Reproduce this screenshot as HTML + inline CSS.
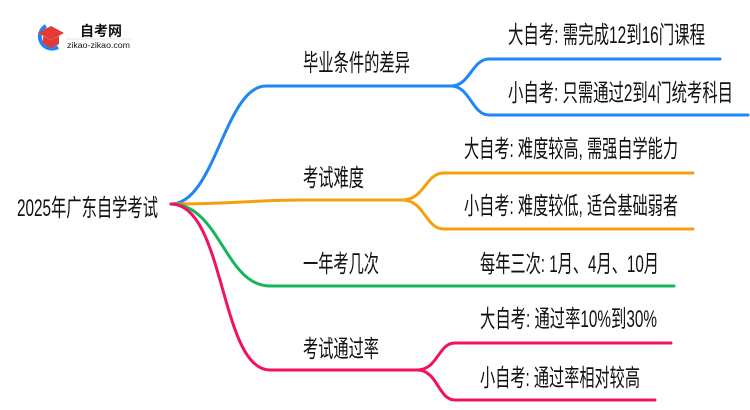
<!DOCTYPE html>
<html><head><meta charset="utf-8"><style>
html,body{margin:0;padding:0;background:#fff;width:750px;height:410px;overflow:hidden}
text{font-family:"Liberation Sans","Noto Sans CJK SC",sans-serif;fill:#111}
</style></head><body>
<svg width="750" height="410" viewBox="0 0 750 410" xmlns="http://www.w3.org/2000/svg">
<g fill="none" stroke-width="3" stroke-linecap="round">
<path d="M171,204 C215,204 225,86 266,86 L451,86" stroke="#1e86f5"/>
<path d="M451,86 C470,86 472,59 489,59 L720,59" stroke="#1e86f5"/>
<path d="M451,86 C470,86 472,115 489,115 L748,115" stroke="#1e86f5"/>
<path d="M171,204 C230,204 260,200 300,200 L402,200" stroke="#f4a10c"/>
<path d="M402,200 C425,200 425,173 444,173 L693,173" stroke="#f4a10c"/>
<path d="M402,200 C425,200 425,229 444,229 L693,229" stroke="#f4a10c"/>
<path d="M171,204 C220,204 225,286 270,286 L674,286" stroke="#17b65a"/>
<path d="M171,204 C225,204 220,370 270,370 L417,370" stroke="#f2125f"/>
<path d="M417,370 C438,370 438,343 455,343 L671,343" stroke="#f2125f"/>
<path d="M417,370 C438,370 438,400 455,400 L655,400" stroke="#f2125f"/>
</g>
<!-- logo -->
<path d="M46,26 A12,12 0 1 0 58,47" fill="none" stroke="#1e86f5" stroke-width="4"/>
<polygon points="38,33 51,26 64,33 51,40" fill="#e53935"/>
<path d="M43,36 L43,44 L51,48 L59,44 L59,36 L51,40 Z" fill="#e53935"/>
<text x="80" y="36" font-size="14" font-weight="bold" fill="#222">自考网</text>
<line x1="66" y1="39" x2="131" y2="39" stroke="#ccc" stroke-width="0.6"/>
<text x="67" y="48" font-size="8" fill="#444" textLength="63" lengthAdjust="spacingAndGlyphs">zikao-zikao.com</text>

<g font-size="24">
<text x="17" y="216" textLength="141" lengthAdjust="spacingAndGlyphs">2025年广东自学考试</text>
<text x="303" y="71" textLength="107" lengthAdjust="spacingAndGlyphs">毕业条件的差异</text>
<text x="303" y="186" textLength="61" lengthAdjust="spacingAndGlyphs">考试难度</text>
<text x="303" y="272" textLength="76" lengthAdjust="spacingAndGlyphs">一年考几次</text>
<text x="303" y="357" textLength="76" lengthAdjust="spacingAndGlyphs">考试通过率</text>
<text x="508" y="43" textLength="197" lengthAdjust="spacingAndGlyphs">大自考: 需完成12到16门课程</text>
<text x="508" y="101" textLength="225" lengthAdjust="spacingAndGlyphs">小自考: 只需通过2到4门统考科目</text>
<text x="464" y="157" textLength="214" lengthAdjust="spacingAndGlyphs">大自考: 难度较高, 需强自学能力</text>
<text x="464" y="214" textLength="214" lengthAdjust="spacingAndGlyphs">小自考: 难度较低, 适合基础弱者</text>
<text x="480" y="272" textLength="179" lengthAdjust="spacingAndGlyphs">每年三次: 1月、4月、10月</text>
<text x="480" y="327" textLength="177" lengthAdjust="spacingAndGlyphs">大自考: 通过率10%到30%</text>
<text x="480" y="386" textLength="160" lengthAdjust="spacingAndGlyphs">小自考: 通过率相对较高</text>
</g>
</svg>
</body></html>
